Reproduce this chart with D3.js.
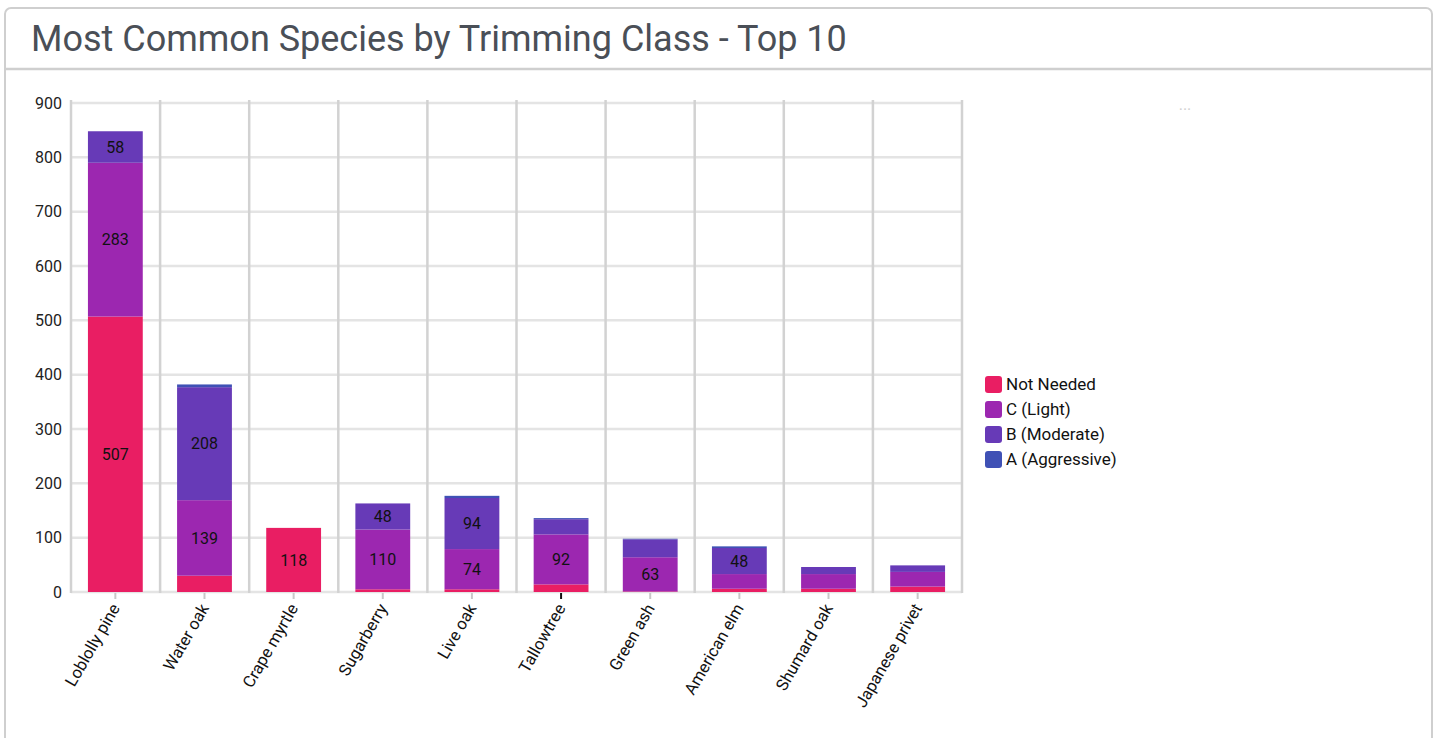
<!DOCTYPE html>
<meta charset="utf-8">
<title>Most Common Species by Trimming Class</title>
<style>
body {
  margin: 0;
  background: #fff;
  font-family: Roboto, "Noto Sans", sans-serif;
}
.card {
  fill: #fff;
  stroke: #cfcfcf;
  stroke-width: 2px;
}
.grid line {
  stroke: #e4e4e4;
  stroke-width: 2.5px;
}
.vgrid line {
  stroke: #d2d2d2;
  stroke-width: 2.5px;
}
</style>
<svg></svg>
<script src="https://cdnjs.cloudflare.com/ajax/libs/d3/7.8.5/d3.min.js"></script>
<script>
// species, left to right
var species = ["Loblolly pine", "Water oak", "Crape myrtle", "Sugarberry", "Live oak",
  "Tallowtree", "Green ash", "American elm", "Shumard oak", "Japanese privet"];
var classes = ["Not Needed", "C (Light)", "B (Moderate)", "A (Aggressive)"];
var colors = ["#e91e63", "#9c27b0", "#673ab7", "#3f51b5"];
// counts per class, same order as species
var notNeeded  = [507, 30, 118, 5, 5, 14, 1, 6, 6, 10];
var cLight     = [283, 139, 0, 110, 74, 92, 63, 27, 27, 27];
var bModerate  = [58, 208, 0, 48, 94, 28, 33, 48, 13, 12];
var aAggressive = [0, 5, 0, 0, 4, 2, 1, 3, 0, 0];
var yTicks = [0, 100, 200, 300, 400, 500, 600, 700, 800, 900];

var width = 1434, height = 738;
var svg = d3.select("svg").attr("width", width).attr("height", height);

// card + header
svg.append("rect").attr("class", "card")
    .attr("x", 5).attr("y", 8).attr("width", 1427).attr("height", 760).attr("rx", 6);
svg.append("line")
    .attr("x1", 5).attr("x2", 1432).attr("y1", 69).attr("y2", 69)
    .style("stroke", "#cfcfcf").style("stroke-width", 2.5);
svg.append("text")
    .attr("x", 31).attr("y", 51)
    .style("font-size", "36px")
    .style("fill", "#4a4f57")
    .text("Most Common Species by Trimming Class - Top 10");
svg.append("text")
    .attr("x", 1185).attr("y", 110)
    .style("font-size", "16px").style("fill", "#d0d0d0").style("text-anchor", "middle")
    .text("...");

var x = d3.scaleBand().domain(species).range([71, 962]).paddingInner(0.385).paddingOuter(0.19);
var band = d3.scaleBand().domain(species).range([71, 962]);
var y = d3.scaleLinear().domain([0, 900]).range([592, 103]);

// horizontal grid
svg.append("g").attr("class", "grid")
  .selectAll("line").data(yTicks).enter().append("line")
    .attr("x1", 71).attr("x2", 962)
    .attr("y1", function(d) { return y(d); })
    .attr("y2", function(d) { return y(d); });

// vertical separators between categories
var seps = species.map(function(s) { return band(s); }).concat([962]);
svg.append("g").attr("class", "vgrid")
  .selectAll("line").data(seps).enter().append("line")
    .attr("x1", function(d) { return d; }).attr("x2", function(d) { return d; })
    .attr("y1", 100).attr("y2", 593);

// y axis labels
svg.append("g").selectAll("text").data(yTicks).enter().append("text")
    .attr("x", 62)
    .attr("y", function(d) { return y(d); })
    .attr("dy", "0.35em")
    .style("text-anchor", "end")
    .style("font-size", "16px")
    .style("fill", "#222")
    .text(function(d) { return d; });

// stack
var table = species.map(function(s, i) {
  var row = { species: s };
  row[classes[0]] = notNeeded[i];
  row[classes[1]] = cLight[i];
  row[classes[2]] = bModerate[i];
  row[classes[3]] = aAggressive[i];
  return row;
});
var series = d3.stack().keys(classes)(table);

var layer = svg.append("g").selectAll("g").data(series).enter().append("g")
    .style("fill", function(d, i) { return colors[i]; });
layer.selectAll("rect").data(function(d) { return d; }).enter().append("rect")
    .attr("x", function(d) { return x(d.data.species); })
    .attr("width", x.bandwidth())
    .attr("y", function(d) { return y(d[1]); })
    .attr("height", function(d) { return y(d[0]) - y(d[1]); });

// value labels on big segments
layer.selectAll("text").data(function(d) { return d; }).enter()
  .filter(function(d) { return d[1] - d[0] >= 40; })
  .append("text")
    .attr("x", function(d) { return x(d.data.species) + x.bandwidth() / 2; })
    .attr("y", function(d) { return (y(d[0]) + y(d[1])) / 2; })
    .attr("dy", "0.35em")
    .style("text-anchor", "middle")
    .style("font-size", "16px")
    .style("fill", "#111")
    .text(function(d) { return d[1] - d[0]; });

// x ticks and rotated labels
var xg = svg.append("g");
xg.selectAll("line").data(species).enter().append("line")
    .attr("x1", function(d) { return x(d) + x.bandwidth() / 2; })
    .attr("x2", function(d) { return x(d) + x.bandwidth() / 2; })
    .attr("y1", 593).attr("y2", 599)
    .style("stroke", function(d) { return d === "Tallowtree" ? "#111" : "#c8c8c8"; })
    .style("stroke-width", 2);
xg.selectAll("text").data(species).enter().append("text")
    .attr("transform", function(d) {
      return "translate(" + (x(d) + x.bandwidth() / 2 + 5) + ",608) rotate(-60)";
    })
    .style("text-anchor", "end")
    .style("font-size", "16.5px")
    .style("fill", "#111")
    .text(function(d) { return d; });

// legend
var legend = svg.append("g").attr("transform", "translate(985,376)");
var item = legend.selectAll("g").data(classes).enter().append("g")
    .attr("transform", function(d, i) { return "translate(0," + i * 25 + ")"; });
item.append("rect")
    .attr("width", 17).attr("height", 17).attr("rx", 3)
    .style("fill", function(d, i) { return colors[i]; });
item.append("text")
    .attr("x", 21).attr("y", 8.5).attr("dy", "0.35em")
    .style("font-size", "17px")
    .style("fill", "#111")
    .text(function(d) { return d; });
</script>
